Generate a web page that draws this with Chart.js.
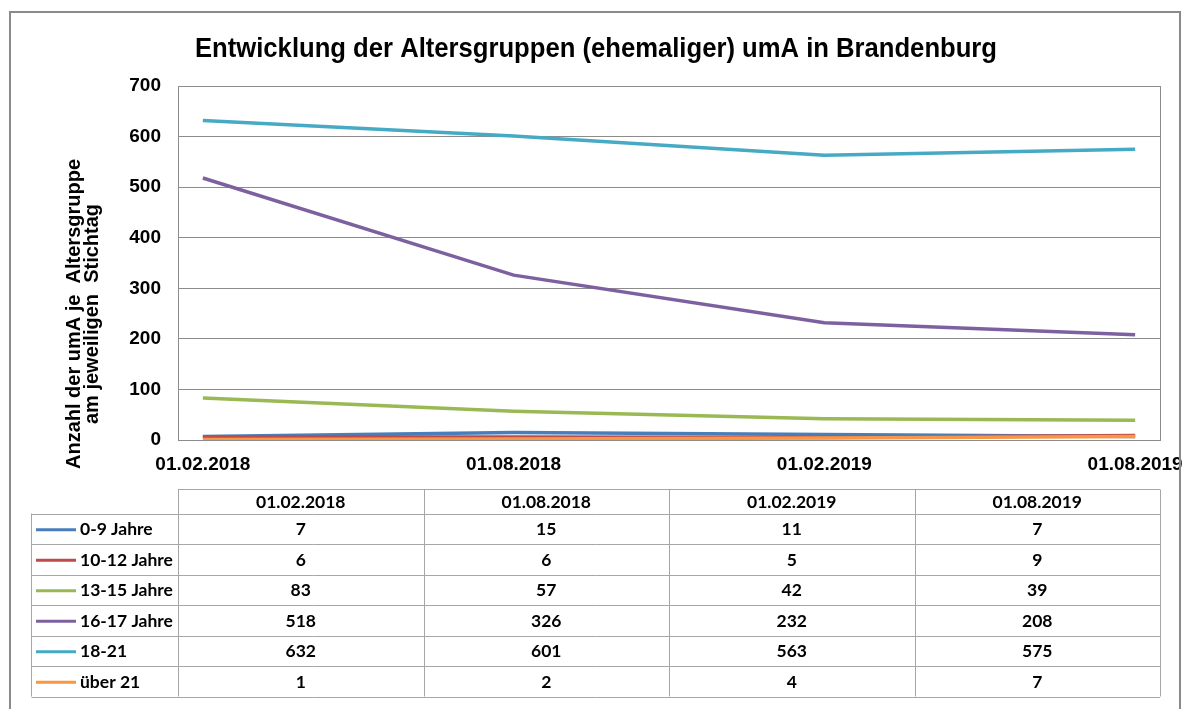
<!DOCTYPE html>
<html>
<head>
<meta charset="utf-8">
<script src="https://cdn.jsdelivr.net/npm/chart.js@4/dist/chart.umd.min.js"></script>
<style>
  body { margin: 0; background: #fff; }
  #wrap { width: 1184px; height: 709px; }
</style>
</head>
<body>
<div id="wrap"><canvas id="chart" width="1184" height="709"></canvas></div>
<script>
const stichtage = ['01.02.2018', '01.08.2018', '01.02.2019', '01.08.2019'];
const gruppen = ['0-9 Jahre', '10-12 Jahre', '13-15 Jahre', '16-17 Jahre', '18-21', 'über 21'];
const jahre0bis9 = [7, 15, 11, 7];
const jahre10bis12 = [6, 6, 5, 9];
const jahre13bis15 = [83, 57, 42, 39];
const jahre16bis17 = [518, 326, 232, 208];
const jahre18bis21 = [632, 601, 563, 575];
const ueber21 = [1, 2, 4, 7];
const yTicks = [0, 100, 200, 300, 400, 500, 600, 700];

const werte = [jahre0bis9, jahre10bis12, jahre13bis15, jahre16bis17, jahre18bis21, ueber21];
const farben = ['#4a7ebb', '#be4b48', '#98b954', '#7d60a0', '#46aac5', '#f79646'];

const titel = 'Entwicklung der Altersgruppen (ehemaliger) umA in Brandenburg';
const achsenTitel = ['Anzahl der umA je  Altersgruppe', 'am jeweiligen  Stichtag'];

// Rahmen, Titel, Achsentitel und Datentabelle
const extras = {
    id: 'extras',
    beforeDraw(chart) {
        const ctx = chart.ctx;
        const a = chart.chartArea;
        ctx.save();
        ctx.strokeStyle = '#8c8c8c';
        ctx.lineWidth = 1;
        ctx.strokeRect(Math.round(a.left) + 0.5, Math.round(a.top) + 0.5, Math.round(a.right - a.left), Math.round(a.bottom - a.top));
        ctx.restore();
    },
    afterDraw(chart) {
        const ctx = chart.ctx;
        const a = chart.chartArea;
        ctx.save();

        // äußerer Rahmen
        ctx.strokeStyle = '#8a8a8a';
        ctx.lineWidth = 2;
        ctx.strokeRect(10, 12, 1170, 720);

        // Titel
        ctx.fillStyle = '#000';
        ctx.font = 'bold 28px "Liberation Sans", Arial, sans-serif';
        ctx.textAlign = 'left';
        ctx.textBaseline = 'alphabetic';
        const w = ctx.measureText(titel).width;
        const sx = 802 / w;
        ctx.save();
        ctx.translate(596 - 401, 57);
        ctx.scale(sx, 1);
        ctx.fillText(titel, 0, 0);
        ctx.restore();

        // Achsentitel
        ctx.save();
        ctx.translate(74, 314);
        ctx.rotate(-Math.PI / 2);
        ctx.font = 'bold 20px "Liberation Sans", Arial, sans-serif';
        ctx.textAlign = 'center';
        ctx.textBaseline = 'middle';
        ctx.fillText(achsenTitel[0], 0, 0);
        ctx.fillText(achsenTitel[1], 0, 18);
        ctx.restore();

        // Datentabelle
        const colW = (a.right - a.left) / stichtage.length;
        const kopfOben = 489.5, kopfUnten = 513.5, zeileH = 30.5, links = 31.5;
        const unten = kopfUnten + zeileH * gruppen.length;
        ctx.strokeStyle = '#a6a6a6';
        ctx.lineWidth = 1;
        ctx.beginPath();
        ctx.moveTo(a.left, kopfOben); ctx.lineTo(a.right, kopfOben);
        for (let r = 0; r <= gruppen.length; r++) {
            const y = Math.round(kopfUnten + r * zeileH) + 0.5;
            ctx.moveTo(links, y); ctx.lineTo(a.right, y);
        }
        for (let k = 0; k <= stichtage.length; k++) {
            const x = Math.round(a.left + k * colW) + 0.5;
            ctx.moveTo(x, kopfOben); ctx.lineTo(x, unten);
        }
        ctx.moveTo(links, kopfUnten); ctx.lineTo(links, unten);
        ctx.stroke();

        ctx.fillStyle = '#000';
        ctx.font = 'bold 17.5px Lato, "Open Sans", sans-serif';
        ctx.textBaseline = 'middle';
        ctx.textAlign = 'center';
        stichtage.forEach((s, k) => {
            ctx.fillText(s, a.left + (k + 0.5) * colW, (kopfOben + kopfUnten) / 2 + 1);
        });
        gruppen.forEach((g, r) => {
            const yc = kopfUnten + (r + 0.5) * zeileH + 1;
            werte[r].forEach((v, k) => {
                ctx.textAlign = 'center';
                ctx.fillText(String(v), a.left + (k + 0.5) * colW, yc);
            });
            ctx.strokeStyle = farben[r];
            ctx.lineWidth = 3;
            ctx.beginPath();
            ctx.moveTo(36, yc); ctx.lineTo(76, yc);
            ctx.stroke();
            ctx.textAlign = 'left';
            ctx.fillText(g, 80, yc);
        });
        ctx.restore();
    }
};

const datasets = gruppen.map((g, i) => ({
    label: g,
    data: werte[i].map((v, k) => ({ x: k, y: v })),
    borderColor: farben[i],
    backgroundColor: farben[i],
    borderWidth: 3.5,
    pointRadius: 0,
    tension: 0,
    order: gruppen.length - i
}));

new Chart(document.getElementById('chart').getContext('2d'), {
    type: 'line',
    data: { datasets: datasets },
    options: {
        responsive: false,
        animation: false,
        layout: { padding: { left: 10, top: 86, right: 24, bottom: 229 } },
        plugins: {
            legend: { display: false },
            title: { display: false },
            tooltip: { enabled: false }
        },
        scales: {
            x: {
                type: 'linear',
                min: -0.08,
                max: 3.08,
                afterBuildTicks: (s) => { s.ticks = stichtage.map((_, i) => ({ value: i })); },
                afterFit: (s) => { s.height = 40; s.paddingLeft = 0; s.paddingRight = 0; },
                grid: { display: false, drawTicks: false },
                border: { display: false },
                ticks: {
                    autoSkip: false,
                    maxRotation: 0,
                    padding: 13,
                    color: '#000',
                    font: { family: '"Liberation Sans", Arial, sans-serif', size: 19, weight: 'bold' },
                    callback: (v) => stichtage[v]
                }
            },
            y: {
                min: 0,
                max: 700,
                afterBuildTicks: (s) => { s.ticks = yTicks.map(v => ({ value: v })); },
                afterFit: (s) => { s.width = 168; s.paddingTop = 0; s.paddingBottom = 0; },
                grid: { color: '#8c8c8c', drawTicks: false },
                border: { display: false },
                ticks: {
                    padding: 17,
                    color: '#000',
                    font: { family: '"Liberation Sans", Arial, sans-serif', size: 19, weight: 'bold' }
                }
            }
        }
    },
    plugins: [extras]
});
</script>
</body>
</html>
